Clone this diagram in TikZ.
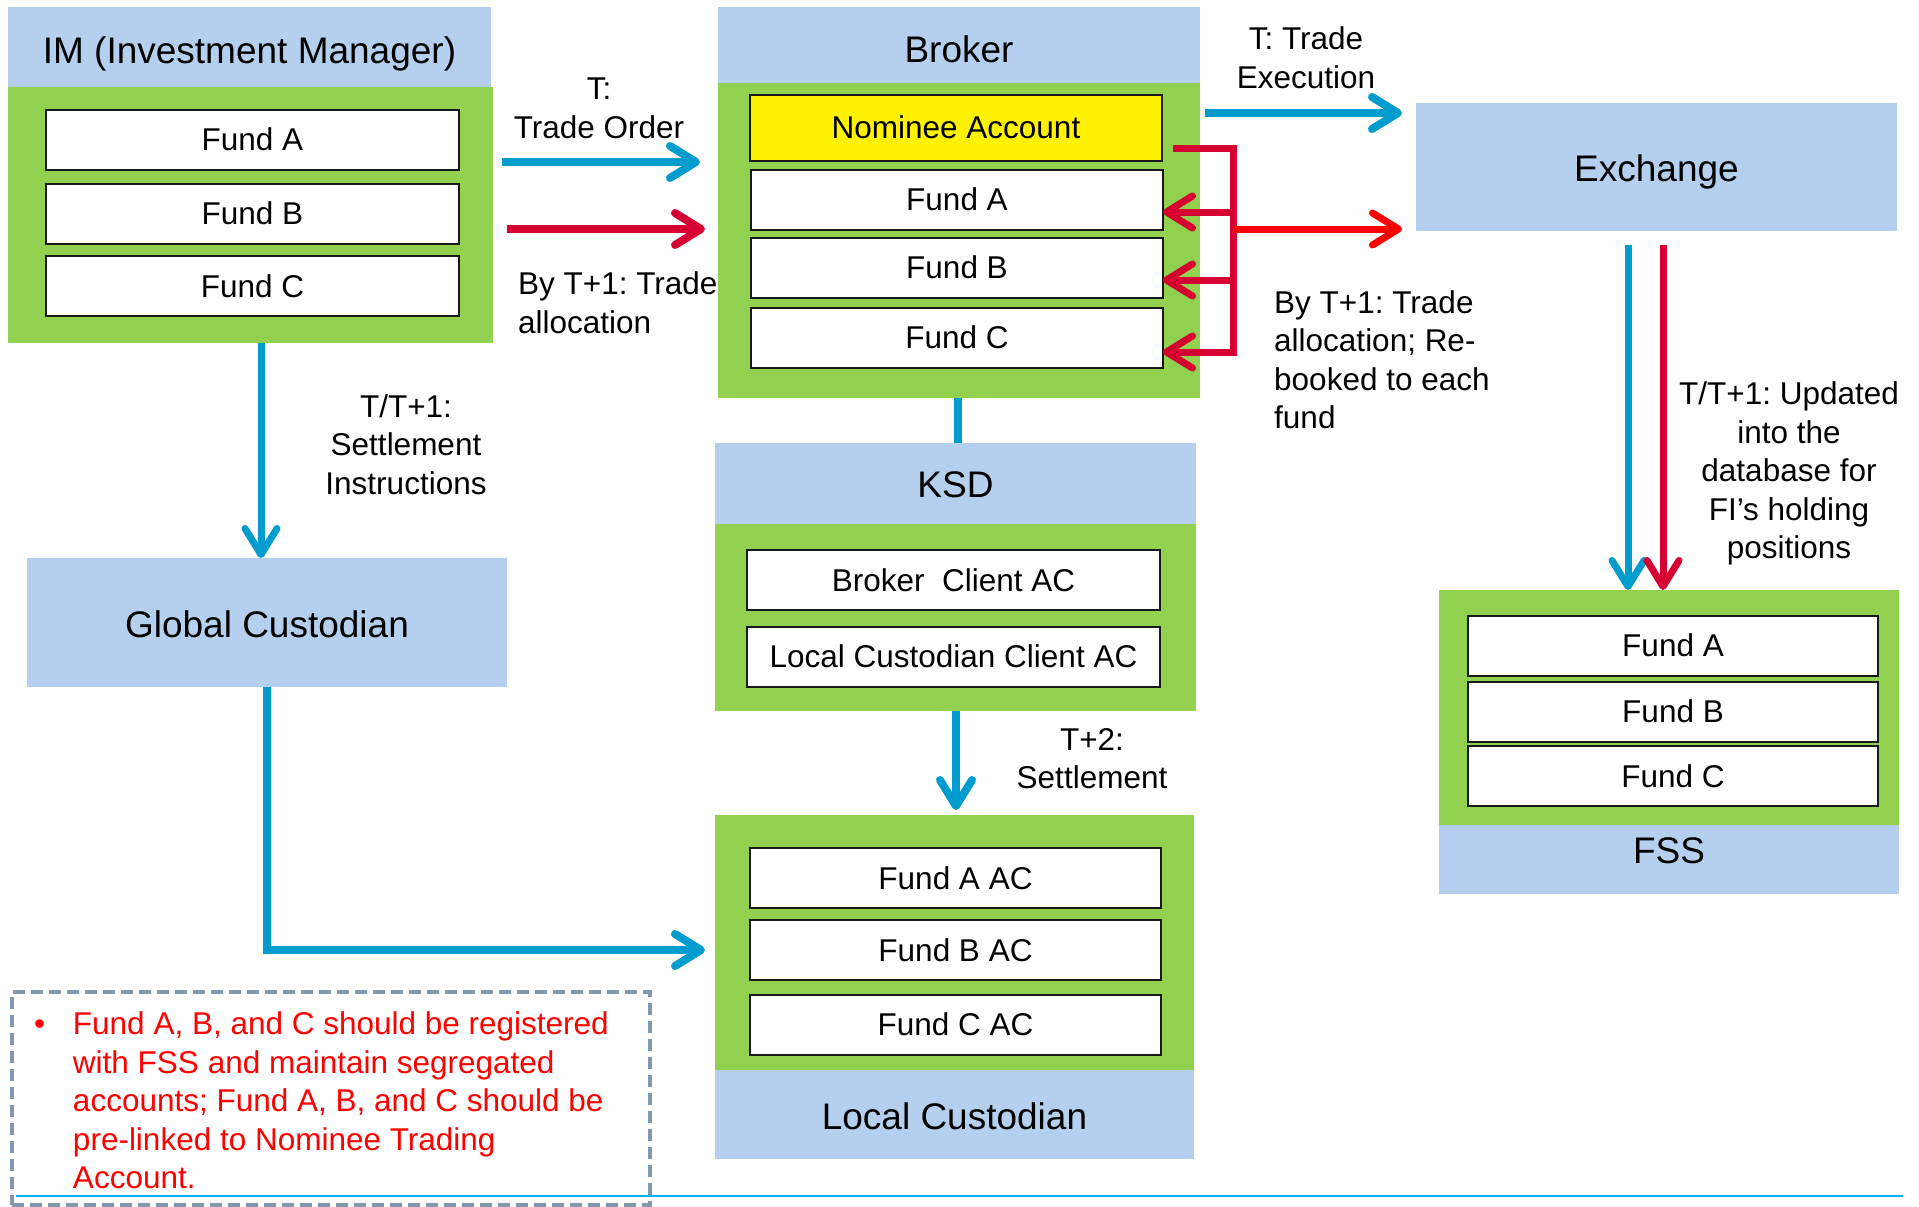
\documentclass[tikz,border=0pt]{standalone}
\usepackage{fontspec}
\setmainfont{Liberation Sans}
\usetikzlibrary{arrows.meta}
\frenchspacing

\definecolor{hdrblue}{RGB}{180,208,238}
\definecolor{bodygreen}{RGB}{146,208,80}
\definecolor{flowblue}{RGB}{0,156,206}
\definecolor{flowred}{RGB}{214,0,50}
\definecolor{brightred}{RGB}{255,0,0}
\definecolor{notegray}{RGB}{132,151,176}
\definecolor{rulecyan}{RGB}{0,176,240}

\newcommand\fTtl{\fontsize{37}{44}\selectfont}
\newcommand\fLbl{\fontsize{31.5}{38.5}\selectfont}

\tikzset{
  boxbase/.style={inner sep=0pt, outer sep=0pt},
  hdr/.style={boxbase, fill=hdrblue, font=\fTtl, text height=26.5pt, text depth=0pt},
  body/.style={boxbase, fill=bodygreen},
  acct/.style={boxbase, draw=black!90, line width=2pt, fill=white, font=\fLbl},
  flow/.style={line width=8pt, -{Straight Barb[length=26pt,width=32pt,round]}},
  blueflow/.style={flow, draw=flowblue},
  redflow/.style={flow, draw=flowred},
  busline/.style={line width=7pt, draw=flowred},
  lbl/.style={inner sep=0pt, font=\fLbl, align=center},
}

\begin{document}
\begin{tikzpicture}[x=1pt, y=-1pt]
\useasboundingbox (0,0) rectangle (1919,1207);

% ---------- Investment manager ----------
\node[body, minimum width=485pt, minimum height=256pt] (imbody) at (250.5,215) {};
\node[hdr, minimum width=483pt, minimum height=80pt, text height=32.5pt] (imhdr) at (249.5,47) {IM (Investment Manager)};
\node[acct, minimum width=413pt, minimum height=60pt] (imA) at (252.5,139.5) {Fund A};
\node[acct, minimum width=413pt, minimum height=60pt] (imB) at (252.5,213.5) {Fund B};
\node[acct, minimum width=413pt, minimum height=60pt] (imC) at (252.5,286) {Fund C};

% ---------- Broker ----------
\node[body, minimum width=482pt, minimum height=315pt] (brkbody) at (959,240.5) {};
\node[hdr, minimum width=482pt, minimum height=76pt, text height=36pt] (brkhdr) at (959,45) {Broker};
\node[acct, fill=yellow, minimum width=412pt, minimum height=66pt] (nominee) at (956,127.5) {Nominee Account};
\node[acct, minimum width=412pt, minimum height=60pt] (bfA) at (957,199.5) {Fund A};
\node[acct, minimum width=412pt, minimum height=60pt] (bfB) at (957,267.5) {Fund B};
\node[acct, minimum width=412pt, minimum height=60pt] (bfC) at (957,337.5) {Fund C};

% ---------- Exchange ----------
\node[hdr, minimum width=481pt, minimum height=128pt, text height=28.5pt] (exch) at (1656.5,167) {Exchange};

% ---------- KSD ----------
\node[body, minimum width=481pt, minimum height=187pt] (ksdbody) at (955.5,617.5) {};
\node[hdr, minimum width=481pt, minimum height=81pt, text height=28.5pt] (ksdhdr) at (955.5,483.5) {KSD};
\node[acct, minimum width=413pt, minimum height=60pt] (ksdBr) at (953.5,580) {Broker\ \ Client AC};
\node[acct, minimum width=413pt, minimum height=60pt] (ksdLc) at (953.5,656.5) {Local Custodian Client AC};

% ---------- Local custodian ----------
\node[body, minimum width=479pt, minimum height=255pt] (lcbody) at (954.5,942.5) {};
\node[hdr, minimum width=479pt, minimum height=89pt, text height=29.5pt] (lchdr) at (954.5,1114.5) {Local Custodian};
\node[acct, minimum width=411pt, minimum height=60pt] (lcA) at (955.5,878) {Fund A AC};
\node[acct, minimum width=411pt, minimum height=60pt] (lcB) at (955.5,950) {Fund B AC};
\node[acct, minimum width=411pt, minimum height=60pt] (lcC) at (955.5,1024.5) {Fund C AC};

% ---------- Global custodian ----------
\node[hdr, minimum width=480pt, minimum height=129pt, text height=29.5pt] (gc) at (267,622.5) {Global Custodian};

% ---------- FSS ----------
\node[body, minimum width=460pt, minimum height=235pt] (fssbody) at (1669,707.5) {};
\node[hdr, minimum width=460pt, minimum height=69pt, text depth=18pt] (fsshdr) at (1669,859.5) {FSS};
\node[acct, minimum width=410pt, minimum height=60pt] (fssA) at (1673,645.5) {Fund A};
\node[acct, minimum width=410pt, minimum height=60pt] (fssB) at (1673,711.5) {Fund B};
\node[acct, minimum width=410pt, minimum height=60pt] (fssC) at (1673,776) {Fund C};

% ---------- reference levels for connectors ----------
\coordinate (yOrder) at (0,162);
\coordinate (yAlloc) at (0,229);
\coordinate (yExec) at (0,113);
\coordinate (busTop) at (1233,148);
\coordinate (yFA) at (0,212);
\coordinate (yFB) at (0,280);
\coordinate (yFC) at (0,352);
\coordinate (yBusEnd) at (0,355.5);
\coordinate (xDb) at (1628,0);
\coordinate (xDr) at (1663,0);
\coordinate (xSI) at (261,0);
\coordinate (xKSD) at (958,0);
\coordinate (xSet) at (956,0);
\coordinate (yGL) at (0,950);

% ---------- connectors ----------
\draw[blueflow, shorten <=9pt, shorten >=18pt] (imbody.east |- yOrder) -- (brkbody.west |- yOrder);
\draw[redflow, shorten <=14pt, shorten >=13pt] (imbody.east |- yAlloc) -- (brkbody.west |- yAlloc);
\draw[blueflow, shorten <=5pt, shorten >=14pt] (brkbody.east |- yExec) -- (exch.west |- yExec);

\draw[busline, shorten <=11pt, line join=miter] (nominee.east |- busTop) -- (busTop) -- (busTop |- yBusEnd);
\draw[redflow, line width=7pt] (busTop |- yFA) -- (bfA.east |- yFA);
\draw[redflow, line width=7pt] (busTop |- yFB) -- (bfB.east |- yFB);
\draw[redflow, line width=7pt] (busTop |- yFC) -- (bfC.east |- yFC);
\draw[flow, draw=brightred, line width=7pt, shorten >=14pt] (busTop |- yAlloc) -- (exch.west |- yAlloc);

\draw[blueflow, line width=7pt, shorten <=14pt] (exch.south -| xDb) -- (fssbody.north -| xDb);
\draw[redflow, line width=7pt, shorten <=14pt] (exch.south -| xDr) -- (fssbody.north -| xDr);

\draw[blueflow, line width=7pt] (imbody.south -| xSI) -- (gc.north -| xSI);
\draw[line width=8pt, draw=flowblue] (brkbody.south -| xKSD) -- (ksdhdr.north -| xKSD);
\draw[blueflow, shorten >=5pt] (ksdbody.south -| xSet) -- (lcbody.north -| xSet);
\draw[blueflow, shorten >=10pt] (gc.south) |- (lcbody.west |- yGL);

% ---------- connector labels ----------
\node[lbl] (lOrder) at (599,108.5) {T:\\Trade Order};
\node[lbl, align=left, anchor=west] (lAlloc) at (518,302.5) {By T+1: Trade\\allocation};
\node[lbl] (lExec) at (1306,57.5) {T: Trade\\Execution};
\node[lbl, align=left, anchor=west] (lRebook) at (1274,359.5) {By T+1: Trade\\allocation; Re-\\booked to each\\fund};
\node[lbl] (lUpd) at (1789,473.5) {T/T+1: Updated\\into the\\database for\\FI’s holding\\positions};
\node[lbl] (lSI) at (406,444.5) {T/T+1:\\Settlement\\Instructions};
\node[lbl] (lT2) at (1092,758.5) {T+2:\\Settlement};

% ---------- note ----------
\draw[rulecyan, line width=2pt] (16,1196) -- (1903,1196);
\node[boxbase, draw=notegray, line width=4pt, dash pattern=on 12pt off 6pt,
      minimum width=638pt, minimum height=213pt] (note) at (331,1098.5) {};
\node[boxbase, anchor=west, font=\fLbl, text=brightred] (notetxt) at (34,1104)
  {\begin{tabular}{@{}l@{}l@{}}
   \makebox[39pt][l]{\textbullet} & Fund A, B, and C should be registered\\
   & with FSS and maintain segregated\\
   & accounts; Fund A, B, and C should be\\
   & pre-linked to Nominee Trading\\
   & Account.
   \end{tabular}};
\end{tikzpicture}
\end{document}
